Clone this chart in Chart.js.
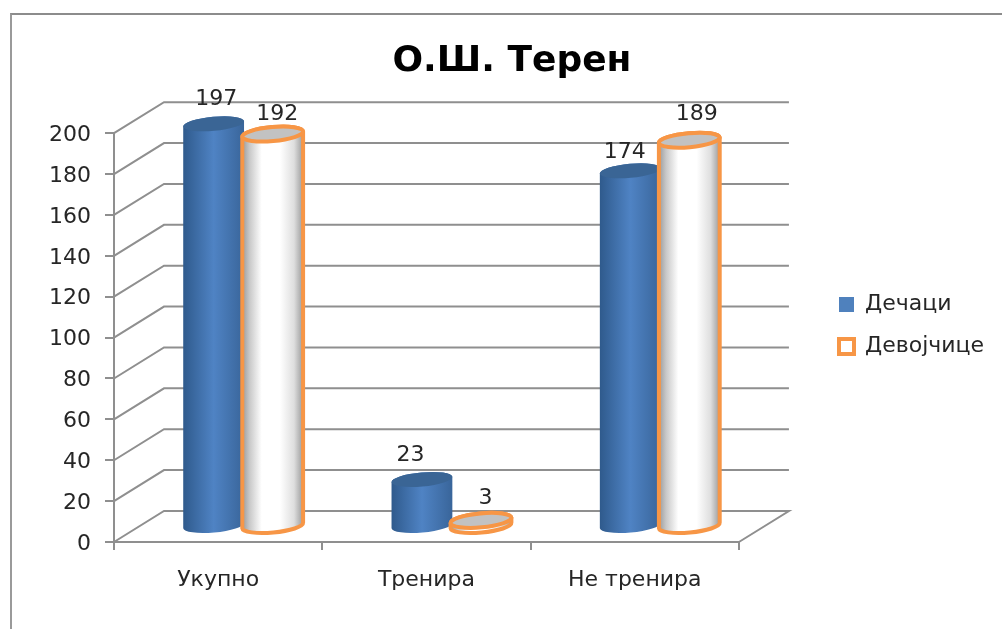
<!DOCTYPE html>
<html>
<head>
<meta charset="utf-8">
<script src="https://cdn.jsdelivr.net/npm/chart.js@4"></script>
<style>
  html, body { margin: 0; padding: 0; background: #fff; overflow: hidden; }
  #frame { position: absolute; left: 10px; top: 13px; right: 0; bottom: 0; border-top: 2px solid #8c8c8c; border-left: 2px solid #9a9a9a; }
  #wrap { position: absolute; left: 0; top: 0; width: 1002px; height: 629px; }
</style>
</head>
<body>
<div id="frame"></div>
<div id="wrap"><canvas id="chart" width="1002" height="629"></canvas></div>
<script>
const categories = ['Укупно', 'Тренира', 'Не тренира'];
const boys = [197, 23, 174];
const girls = [192, 3, 189];
const seriesNames = ['Дечаци', 'Девојчице'];

// nudges for the value labels, the original has them placed by hand
const labelShift = [
  [[2.5, 0], [-11.5, 0], [-5.5, 6]],
  [[4.5, 5], [4.5, 2], [7.5, -1]]
];

const FONT = '"DejaVu Sans", sans-serif';
const TEXT = '#262626';
const GRID = '#8f8f8f';
const ORANGE = '#f79646';
const depthX = 50, depthY = 31;

// walls: grid lines go up the side wall then along the back
const wallPlugin = {
  id: 'walls',
  beforeDatasetsDraw(chart) {
    const { x, y } = chart.scales;
    const { ctx } = chart;
    const left = x.left, right = x.right;
    ctx.save();
    ctx.strokeStyle = GRID;
    ctx.lineWidth = 2;
    y.ticks.forEach(t => {
      const py = y.getPixelForValue(t.value);
      ctx.beginPath();
      ctx.moveTo(left, py);
      ctx.lineTo(left + depthX, py - depthY);
      ctx.lineTo(right + depthX, py - depthY);
      if (t.value === 0) ctx.lineTo(right, py);
      ctx.stroke();
    });
    ctx.restore();
  }
};

function cylinder(ctx, bar, isOutline) {
  const rx = bar.width / 2 + 1, ry = 7, tilt = -0.09;
  const cx = bar.x + depthX / 2;
  const top = bar.y - depthY / 2;
  const base = bar.base - depthY / 2;
  const grad = ctx.createLinearGradient(cx - rx, 0, cx + rx, 0);
  if (isOutline) {
    grad.addColorStop(0, '#999999');
    grad.addColorStop(0.12, '#c8c8c8');
    grad.addColorStop(0.32, '#ffffff');
    grad.addColorStop(0.62, '#ffffff');
    grad.addColorStop(0.85, '#dedede');
    grad.addColorStop(1, '#999999');
  } else {
    grad.addColorStop(0, '#2f5a8c');
    grad.addColorStop(0.5, '#4f83c4');
    grad.addColorStop(1, '#39659a');
  }
  ctx.beginPath();
  ctx.ellipse(cx, base, rx, ry, tilt, 0, Math.PI);
  ctx.ellipse(cx, top, rx, ry, tilt, Math.PI, 2 * Math.PI);
  ctx.closePath();
  ctx.fillStyle = grad;
  ctx.fill();
  if (isOutline) {
    ctx.strokeStyle = ORANGE;
    ctx.lineWidth = 4;
    ctx.stroke();
  }
  ctx.beginPath();
  ctx.ellipse(cx, top, rx, ry, tilt, 0, 2 * Math.PI);
  ctx.fillStyle = isOutline ? '#c2c2c2' : '#3a6595';
  ctx.fill();
  if (isOutline) ctx.stroke();
}

// bars stay invisible, the cylinders are drawn on the bar elements' geometry
const cylinderPlugin = {
  id: 'cylinders',
  afterDatasetsDraw(chart) {
    const { ctx } = chart;
    const metas = chart.data.datasets.map((d, i) => chart.getDatasetMeta(i));
    ctx.save();
    categories.forEach((c, i) => {
      metas.forEach((meta, k) => cylinder(ctx, meta.data[i], k === 1));
    });
    ctx.font = '22px ' + FONT;
    ctx.fillStyle = TEXT;
    ctx.textAlign = 'center';
    ctx.textBaseline = 'middle';
    metas.forEach((meta, k) => {
      meta.data.forEach((bar, i) => {
        const s = labelShift[k][i];
        ctx.fillText(chart.data.datasets[k].data[i], bar.x + depthX / 2 + s[0], bar.y - 40 + s[1]);
      });
    });
    ctx.restore();
  }
};

// title and legend sit further right than the layout would put them,
// y tick labels sit a bit lower than their ticks
const placePlugin = {
  id: 'place',
  afterLayout(chart) {
    const t = chart.titleBlock;
    t.left = 22;
    t.right = 1002;
    const l = chart.legend;
    const w = l.right - l.left;
    l.left = 819;
    l.right = 819 + w;
  },
  beforeDraw(chart) {
    chart.scales.y.getLabelItems().forEach(item => {
      item.options.translation[1] += 2;
    });
  }
};

new Chart(document.getElementById('chart'), {
  type: 'bar',
  data: {
    labels: categories,
    datasets: [
      {
        label: seriesNames[0],
        data: boys,
        backgroundColor: 'rgba(0,0,0,0)'
      },
      {
        label: seriesNames[1],
        data: girls,
        backgroundColor: 'rgba(0,0,0,0)'
      }
    ]
  },
  plugins: [placePlugin, wallPlugin, cylinderPlugin],
  options: {
    responsive: false,
    animation: false,
    categoryPercentage: 0.567,
    barPercentage: 1,
    layout: { padding: { left: 0, top: 22, right: 88, bottom: 0 } },
    plugins: {
      tooltip: { enabled: false },
      title: {
        display: true,
        text: 'О.Ш. Терен',
        color: '#000',
        font: { family: FONT, size: 36, weight: 'bold' },
        padding: { top: 18, bottom: 50 }
      },
      legend: {
        position: 'right',
        labels: {
          boxWidth: 15,
          boxHeight: 15,
          padding: 20,
          color: TEXT,
          font: { family: FONT, size: 22 },
          generateLabels() {
            return [
              { text: seriesNames[0], fillStyle: '#4f81bd', strokeStyle: '#4f81bd', lineWidth: 0, datasetIndex: 0, fontColor: TEXT },
              { text: seriesNames[1], fillStyle: '#ffffff', strokeStyle: ORANGE, lineWidth: 4, datasetIndex: 1, fontColor: TEXT }
            ];
          }
        }
      }
    },
    scales: {
      x: {
        afterFit(scale) { scale.height = 87; },
        border: { color: GRID, width: 2 },
        grid: { offset: true, drawOnChartArea: false, color: GRID, lineWidth: 2, tickLength: 8 },
        ticks: { color: TEXT, padding: 17, maxRotation: 0, font: { family: FONT, size: 22 } }
      },
      y: {
        min: 0,
        max: 200,
        afterFit(scale) { scale.width = 114; },
        border: { color: GRID, width: 2 },
        grid: { drawOnChartArea: false, color: GRID, lineWidth: 2, tickLength: 9 },
        ticks: { stepSize: 20, color: TEXT, padding: 14, font: { family: FONT, size: 22 } }
      }
    }
  }
});
</script>
</body>
</html>
